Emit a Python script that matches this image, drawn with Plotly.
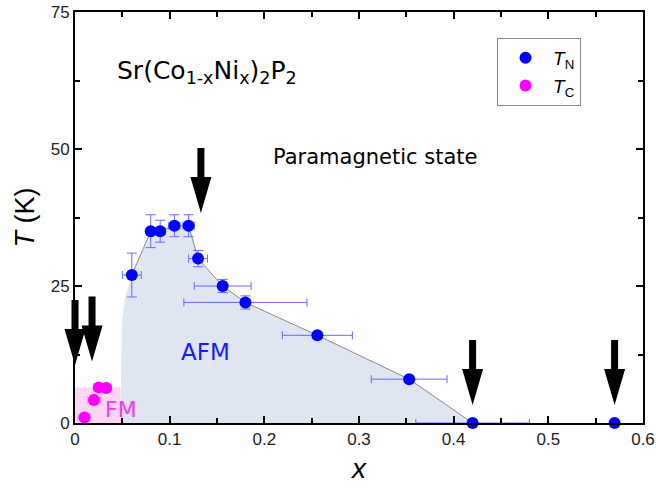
import plotly.graph_objects as go

# ---- data ----
x_N = [0.06, 0.08, 0.09, 0.105, 0.12, 0.13, 0.156, 0.18, 0.256, 0.353, 0.42, 0.57]
T_N = [27, 35, 35, 36, 36, 30, 25, 22, 16, 8, 0, 0]
xerr_N = [0.01, 0.004, 0.005, 0.006, 0.006, 0.01, 0.03, 0.065, 0.037, 0.04, 0.06, 0]
Terr_N = [4, 3, 2, 2, 2, 1.5, 1.2, 1.2, 0.5, 0.5, 0, 0]

x_C = [0.01, 0.02, 0.025, 0.033]
T_C = [1.0, 4.2, 6.5, 6.4]
xerr_C = [0.007, 0.007, 0.005, 0.005]

afm_left_x = [0.048, 0.049, 0.050, 0.053]
afm_left_T = [0, 12, 19, 23]

fm_x = [0, 0.048, 0.048, 0]
fm_T = [0, 0, 6.5, 6.5]

arrow_x = [0.0, 0.018, 0.133, 0.42, 0.57]
arrow_tip_T = [10.6, 11.2, 38.3, 3.3, 3.3]

X_RANGE = [0, 0.6]
Y_RANGE = [0, 75]

# ---- layout geometry ----
W, H = 656, 491
ML, MR, MT, MB = 75, 13, 12, 68
PW, PH = W - ML - MR, H - MT - MB

FONT = "Liberation Sans, Arial, sans-serif"
FONT_ANN = "DejaVu Sans, sans-serif"

fig = go.Figure()

# AFM shaded region
n_afm = x_N.index(0.42) + 1
afm_x = afm_left_x + x_N[:n_afm] + [afm_left_x[0]]
afm_T = afm_left_T + T_N[:n_afm] + [afm_left_T[0]]
fig.add_trace(go.Scatter(x=afm_x, y=afm_T, fill="toself", mode="none",
                         fillcolor="#dfe5f1", showlegend=False, hoverinfo="skip"))
# FM shaded region
fig.add_trace(go.Scatter(x=fm_x, y=fm_T, fill="toself", mode="none",
                         fillcolor="rgba(255,190,240,0.65)", showlegend=False, hoverinfo="skip"))
# gray guide line
fig.add_trace(go.Scatter(x=x_N[:n_afm], y=T_N[:n_afm], mode="lines",
                         line=dict(color="#8a8a8a", width=1), showlegend=False, hoverinfo="skip"))
# T_N points
fig.add_trace(go.Scatter(
    x=x_N, y=T_N, mode="markers", name="<i>T</i><sub>N</sub>",
    marker=dict(color="#0000ff", size=12),
    error_x=dict(type="data", array=xerr_N, color="#6a6aff", thickness=1, width=4),
    error_y=dict(type="data", array=Terr_N, color="#6a6aff", thickness=1, width=5),
    cliponaxis=False))
# T_C points
fig.add_trace(go.Scatter(
    x=x_C, y=T_C, mode="markers", name="<i>T</i><sub>C</sub>",
    marker=dict(color="#ff00ff", size=12),
    error_x=dict(type="data", array=xerr_C, color="#ff88ee", thickness=1, width=4),
    cliponaxis=False))

# arrows (paper coordinates derived from axis ranges)
shaft_hw, head_hw, head_len, total_len = 3.5, 10.5, 36, 65
shapes = []
for ax_, at in zip(arrow_x, arrow_tip_T):
    px = (ax_ - X_RANGE[0]) / (X_RANGE[1] - X_RANGE[0])
    py = (at - Y_RANGE[0]) / (Y_RANGE[1] - Y_RANGE[0])
    sw, hw = shaft_hw / PW, head_hw / PW
    hl, tl = head_len / PH, total_len / PH
    path = (f"M{px - sw},{py + tl} L{px + sw},{py + tl} L{px + sw},{py + hl} "
            f"L{px + hw},{py + hl} L{px},{py} L{px - hw},{py + hl} L{px - sw},{py + hl} Z")
    shapes.append(dict(type="path", path=path, xref="paper", yref="paper",
                       fillcolor="black", line=dict(width=0), layer="above"))

annotations = [
    dict(text="Sr(Co<sub>1-x</sub>Ni<sub>x</sub>)<sub>2</sub>P<sub>2</sub>", x=0.071, y=64,
         xref="paper", yref="y", xanchor="left", yanchor="middle", showarrow=False,
         font=dict(size=25, color="black", family=FONT_ANN)),
    dict(text="Paramagnetic state", x=0.317, y=48.5, xref="x", yref="y",
         showarrow=False, font=dict(size=21, color="black", family=FONT_ANN)),
    dict(text="AFM", x=0.138, y=13.0, xref="x", yref="y",
         showarrow=False, font=dict(size=23, color="#1a1aff", family=FONT_ANN)),
    dict(text="FM", x=0.049, y=2.5, xref="x", yref="y",
         showarrow=False, font=dict(size=22, color="#ff33ee", family=FONT_ANN)),
]

axis_common = dict(showline=True, linecolor="black", linewidth=2, mirror="allticks",
                   ticks="inside", ticklen=7, tickwidth=1.5, tickcolor="black",
                   showgrid=False, zeroline=False, automargin=False,
                   tickfont=dict(size=17, color="#222222", family=FONT))

fig.update_layout(
    width=W, height=H, margin=dict(l=ML, r=MR, t=MT, b=MB, autoexpand=False),
    paper_bgcolor="white", plot_bgcolor="white",
    font=dict(family=FONT, color="black"),
    xaxis=dict(range=X_RANGE, dtick=0.1, tick0=0,
               minor=dict(dtick=0.05, ticks="inside", ticklen=5, tickcolor="black"),
               title=dict(text="<i>x</i>", font=dict(size=28, family=FONT), standoff=10),
               **axis_common),
    yaxis=dict(range=Y_RANGE, dtick=25, tick0=0,
               minor=dict(dtick=12.5, ticks="inside", ticklen=5, tickcolor="black"),
               title=dict(text="<i>T</i> (K)", font=dict(size=27, family=FONT), standoff=8),
               **axis_common),
    legend=dict(x=0.743, y=0.937, xanchor="left", yanchor="top",
                bordercolor="#888888", borderwidth=1, bgcolor="white",
                font=dict(size=19, family=FONT), itemwidth=45, tracegroupgap=0),
    shapes=shapes, annotations=annotations,
)

fig.write_html("out.html")
